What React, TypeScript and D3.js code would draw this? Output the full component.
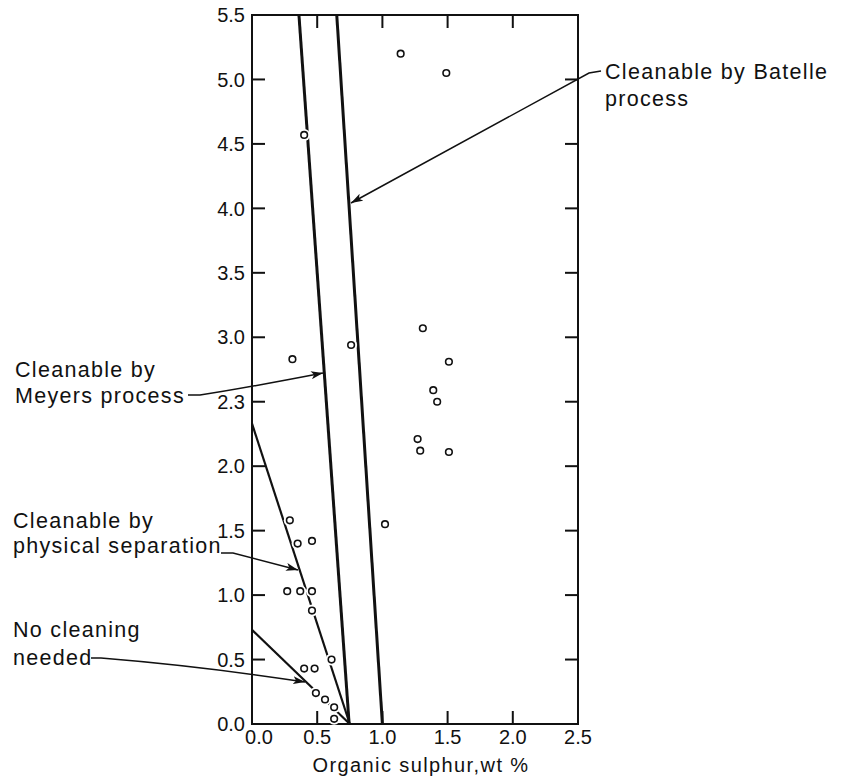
import React from "react";
import * as d3 from "d3";

// Tick values and their printed labels
const xTicks = [0, 0.5, 1.0, 1.5, 2.0, 2.5];
const xTickLabels = ["0.0", "0.5", "1.0", "1.5", "2.0", "2.5"];
const yTicks = [0, 0.5, 1.0, 1.5, 2.0, 2.5, 3.0, 3.5, 4.0, 4.5, 5.0, 5.5];
const yTickLabels = ["0.0", "0.5", "1.0", "1.5", "2.0", "2.3", "3.0", "3.5", "4.0", "4.5", "5.0", "5.5"];

// Coal samples: organic sulphur (x, wt %) vs second sulphur measure (y)
const samplesX = [
  1.14, 1.49, 0.40, 1.31, 0.76, 0.31, 1.51, 1.39, 1.42, 1.27, 1.29, 1.51,
  1.02, 0.29, 0.35, 0.46, 0.27, 0.37, 0.46, 0.46, 0.61, 0.40, 0.48, 0.49,
  0.56, 0.63, 0.63,
];
const samplesY = [
  5.20, 5.05, 4.57, 3.07, 2.94, 2.83, 2.81, 2.59, 2.50, 2.21, 2.12, 2.11,
  1.55, 1.58, 1.40, 1.42, 1.03, 1.03, 1.03, 0.88, 0.50, 0.43, 0.43, 0.24,
  0.19, 0.13, 0.04,
];

// Boundary lines between cleaning regimes: [x, y] endpoints
const noCleaningLine = [[0, 0.73], [0.75, 0]];
const physicalLine = [[0, 2.33], [0.75, 0]];
const meyersLine = [[0.36, 5.5], [0.745, 0]];
const batelleLine = [[0.65, 5.5], [1.0, 0]];

const FONT = "'Liberation Sans', Arial, sans-serif";

export default function App() {
  const width = 846;
  const height = 780;
  const x = d3.scaleLinear().domain([0, 2.5]).range([252, 578]);
  const y = d3.scaleLinear().domain([0, 5.5]).range([724, 15]);
  const line = d3
    .line<number[]>()
    .x((d) => x(d[0]))
    .y((d) => y(d[1]));

  const x0 = x(0);
  const x1 = x(2.5);
  const y0 = y(0);
  const y1 = y(5.5);
  const tickLen = 13;

  const labelStyle = { fontFamily: FONT, fontSize: 21.5, letterSpacing: 1.3, fill: "#111" };

  return (
    <svg
      width={width}
      height={height}
      style={{ position: "absolute", left: 0, top: 0, background: "#fff" }}
    >
      <defs>
        <marker
          id="head"
          markerUnits="userSpaceOnUse"
          markerWidth={12}
          markerHeight={8}
          refX={12}
          refY={4}
          orient="auto"
        >
          <path d="M0,0 L12,4 L0,8 L3,4 z" fill="#111" />
        </marker>
      </defs>

      {/* frame */}
      <rect x={x0} y={y1} width={x1 - x0} height={y0 - y1} fill="none" stroke="#111" strokeWidth={2} />

      {/* inward ticks on all four sides */}
      {yTicks.map((t) => (
        <g key={"yt" + t}>
          <line x1={x0} x2={x0 + tickLen} y1={y(t)} y2={y(t)} stroke="#111" strokeWidth={2} />
          <line x1={x1} x2={x1 - tickLen} y1={y(t)} y2={y(t)} stroke="#111" strokeWidth={2} />
        </g>
      ))}
      {xTicks.map((t) => (
        <g key={"xt" + t}>
          <line x1={x(t)} x2={x(t)} y1={y0} y2={y0 - tickLen} stroke="#111" strokeWidth={2} />
          <line x1={x(t)} x2={x(t)} y1={y1} y2={y1 + tickLen} stroke="#111" strokeWidth={2} />
        </g>
      ))}

      {/* tick labels */}
      {yTicks.map((t, i) => (
        <text
          key={"yl" + t}
          x={x0 - 7}
          y={y(t)}
          dy="0.36em"
          textAnchor="end"
          fontFamily={FONT}
          fontSize={20}
          fill="#111"
        >
          {yTickLabels[i]}
        </text>
      ))}
      {xTicks.map((t, i) => (
        <text
          key={"xl" + t}
          x={x(t) + (i === 0 ? 7 : 0)}
          y={744}
          textAnchor="middle"
          fontFamily={FONT}
          fontSize={20}
          fill="#111"
        >
          {xTickLabels[i]}
        </text>
      ))}

      {/* axis title */}
      <text
        x={421}
        y={772}
        textAnchor="middle"
        fontFamily={FONT}
        fontSize={20}
        letterSpacing={1.4}
        fill="#111"
      >
        Organic sulphur,wt %
      </text>

      {/* region boundaries */}
      <path d={line(batelleLine) || ""} fill="none" stroke="#111" strokeWidth={3} />
      <path d={line(meyersLine) || ""} fill="none" stroke="#111" strokeWidth={3} />
      <path d={line(physicalLine) || ""} fill="none" stroke="#111" strokeWidth={2.2} />
      <path d={line(noCleaningLine) || ""} fill="none" stroke="#111" strokeWidth={2.2} />

      {/* samples, with a white halo that breaks the lines beneath */}
      {samplesX.map((sx, i) => (
        <g key={"p" + i}>
          <circle cx={x(sx)} cy={y(samplesY[i])} r={6} fill="#fff" />
          <circle cx={x(sx)} cy={y(samplesY[i])} r={3.3} fill="#fff" stroke="#111" strokeWidth={1.6} />
        </g>
      ))}

      {/* annotation leaders */}
      <path d="M601,71 L589,73 L351,203" fill="none" stroke="#111" strokeWidth={1.5} markerEnd="url(#head)" />
      <path d="M188,395 L200,395 Q 240,389 323,373" fill="none" stroke="#111" strokeWidth={1.5} markerEnd="url(#head)" />
      <path d="M221,553 L233,553 L298,570" fill="none" stroke="#111" strokeWidth={1.5} markerEnd="url(#head)" />
      <path d="M91,658 L101,658 Q 200,666 305,682" fill="none" stroke="#111" strokeWidth={1.5} markerEnd="url(#head)" />

      {/* annotation text */}
      <text x={605} y={79} {...labelStyle}>Cleanable by Batelle</text>
      <text x={605} y={106} {...labelStyle}>process</text>

      <text x={15} y={377} {...labelStyle}>Cleanable by</text>
      <text x={15} y={403} {...labelStyle}>Meyers process</text>

      <text x={13} y={528} {...labelStyle}>Cleanable by</text>
      <text x={13} y={553} {...labelStyle}>physical separation</text>

      <text x={13} y={637} {...labelStyle}>No cleaning</text>
      <text x={13} y={665} {...labelStyle}>needed</text>
    </svg>
  );
}
